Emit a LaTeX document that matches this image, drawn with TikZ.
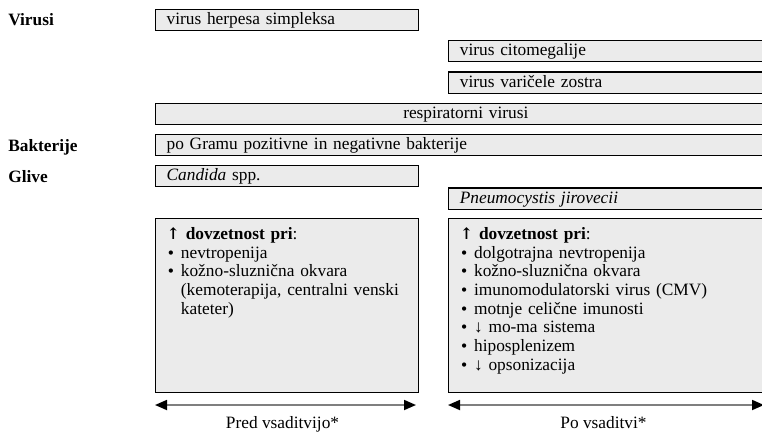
\documentclass[tikz,border=0pt]{standalone}
\usepackage{fontspec}
\setmainfont{Liberation Serif}
\newfontfamily\bulfont{DejaVu Serif}
\usepackage{tikz}
\usetikzlibrary{positioning, arrows.meta}
\definecolor{barfill} {HTML}{EBEBEB}
\definecolor{spangray}{HTML}{7F7F7F}
\newcommand\boxfont{\fontsize{13}{14}\selectfont}
\newcommand\itm{\makebox[10.7pt][l]{{\bulfont\fontsize{11}{14}\selectfont •}}}
\newcommand\cont{\hspace*{10.7pt}}
\newcommand\upar{{\bulfont\bfseries\fontsize{12}{14}\selectfont ↑}}

\begin{document}
\begin{tikzpicture}[x=0.75pt, y=-0.75pt,
    every node/.style={font=\boxfont, outer sep=0pt},
    bar/.style={draw=black, line width=0.8pt, fill=barfill, anchor=north west,
                inner xsep=8.5pt, inner ysep=1.8pt, text height=9.5pt,
                text depth=2.7pt, align=left},
    panel/.style={bar, inner ysep=6.5pt, text depth=108pt},
    cat/.style={anchor=base west, inner sep=0pt, font=\boxfont\bfseries},
    span/.style={draw=spangray, line width=1.3pt,
                 {Triangle[length=9pt, width=7.5pt, color=black]}-{Triangle[length=9pt, width=7.5pt, color=black]}},
    phase/.style={anchor=base, inner sep=0pt}]
  \useasboundingbox (0,0) rectangle (762,432);

  % categories
  \node[cat] (virusi)    at (8.3,25)  {Virusi};
  \node[cat] (bakterije) at (8.3,151) {Bakterije};
  \node[cat] (glive)     at (8.3,182) {Glive};

  % pathogen bars
  \foreach \nm/\x/\y/\tw/\txt in {%
      hsv/155.3/9.5/180.3/virus herpesa simpleksa,
      cmv/448.5/40.5/228.9/virus citomegalije,
      vzv/448.5/72/228.9/virus varičele zostra,
      gram/155.3/134.5/448.8/po Gramu pozitivne in negativne bakterije,
      cand/155.3/165.5/180.3/\textit{Candida} spp.,
      pjir/448.5/188/228.9/\textit{Pneumocystis jirovecii}}
  {
    \node[bar, text width=\tw pt] (\nm) at (\x,\y) {\txt};
  }
  \node[bar, text width=448.8pt, align=center] (resp) at (155.3,103.5)
    {respiratorni virusi};

  % risk panels
  \node[panel, text width=180.3pt] (pred) at (155.3,218.3) {%
    \upar\ \textbf{dovzetnost pri}:\\
    \itm nevtropenija\\
    \itm kožno-sluznična okvara\\
    \cont (kemoterapija, centralni venski\\
    \cont kateter)};
  \node[panel, text width=228.9pt] (po) at (448.5,218.3) {%
    \upar\ \textbf{dovzetnost pri}:\\
    \itm dolgotrajna nevtropenija\\
    \itm kožno-sluznična okvara\\
    \itm imunomodulatorski virus (CMV)\\
    \itm motnje celične imunosti\\
    \itm ↓ mo-ma sistema\\
    \itm hiposplenizem\\
    \itm ↓ opsonizacija};

  % time spans
  \coordinate (predL) at (155,405);
  \coordinate (predR) at (416,405);
  \coordinate (poL)   at (448,405);
  \coordinate (poR)   at (764,405);
  \draw[span] (predL) -- (predR);
  \draw[span] (poL) -- (poR);
  \node[phase] (predlbl) at (282.5,428) {Pred vsaditvijo*};
  \node[phase] (polbl)   at (603.5,428) {Po vsaditvi*};
\end{tikzpicture}
\end{document}
